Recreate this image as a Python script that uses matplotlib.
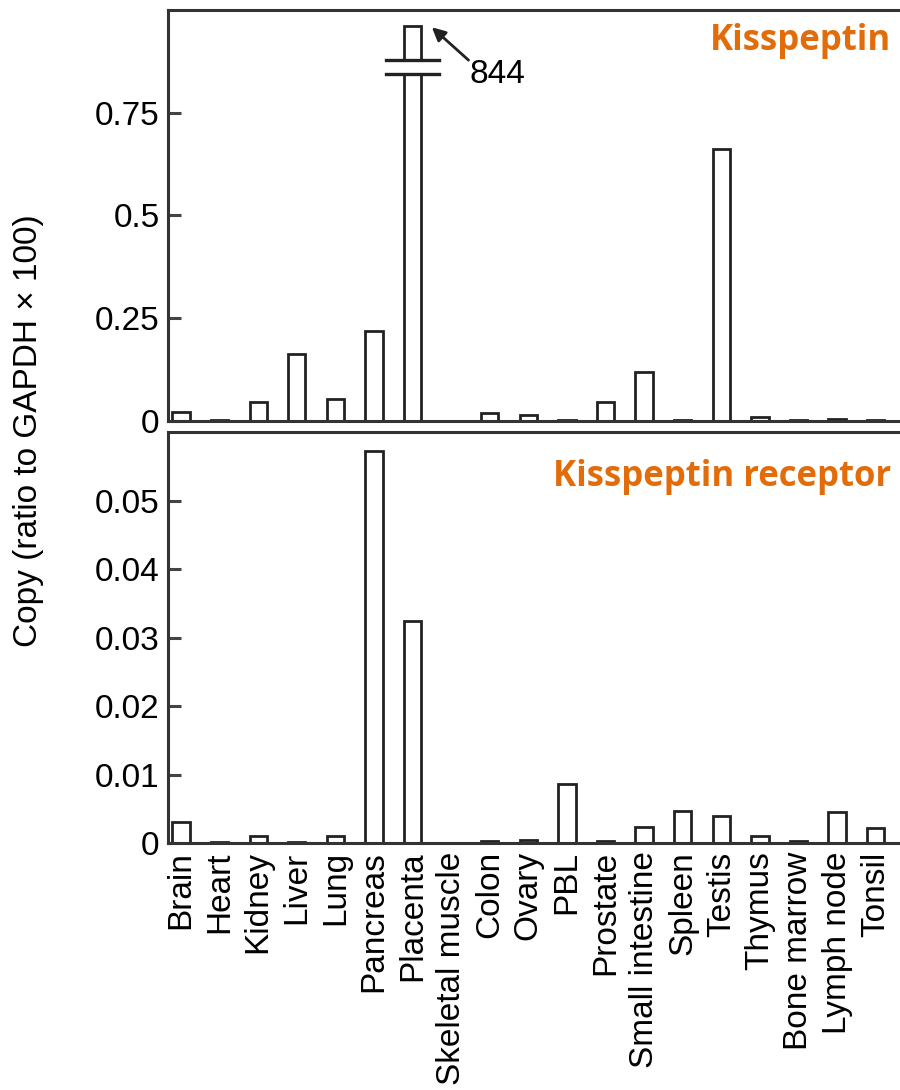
import matplotlib.pyplot as plt
import numpy as np

plt.rcParams['font.family'] = ['Liberation Sans', 'DejaVu Sans']

tissues = ["Brain", "Heart", "Kidney", "Liver", "Lung", "Pancreas", "Placenta",
           "Skeletal muscle", "Colon", "Ovary", "PBL", "Prostate", "Small intestine",
           "Spleen", "Testis", "Thymus", "Bone marrow", "Lymph node", "Tonsil"]

# copies relative to GAPDH x 100
kisspeptin = [0.022, 0.003, 0.047, 0.164, 0.054, 0.218, 844, 0.0, 0.02, 0.015,
              0.003, 0.047, 0.12, 0.002, 0.662, 0.01, 0.002, 0.004, 0.002]
receptor = [0.0030, 0.0002, 0.0010, 0.0002, 0.0010, 0.0573, 0.0324, 0.0, 0.0003,
            0.0004, 0.0086, 0.0003, 0.0023, 0.0047, 0.0039, 0.0010, 0.0003,
            0.0045, 0.0022]

top_ticks = [0, 0.25, 0.5, 0.75]
top_ticklabels = ["0", "0.25", "0.5", "0.75"]
bot_ticks = [0, 0.01, 0.02, 0.03, 0.04, 0.05]
bot_ticklabels = ["0", "0.01", "0.02", "0.03", "0.04", "0.05"]

orange = '#E36C0A'
edge = '#222222'
x = np.arange(len(tissues))
w = 0.45
cap = 0.96   # where the broken bar is cut off

fig = plt.figure(figsize=(9, 10.9), dpi=100)
ax1 = fig.add_axes([0.1867, 0.6138, 0.8133, 0.377])
ax2 = fig.add_axes([0.1867, 0.2266, 0.8133, 0.3771])

for ax in (ax1, ax2):
    ax.set_xlim(-0.337, 18.63)
    ax.spines['right'].set_visible(False)
    for s in ('left', 'top', 'bottom'):
        ax.spines[s].set_linewidth(2.2)
        ax.spines[s].set_color('#333333')
    ax.tick_params(axis='y', direction='in', length=9, width=2.2, color='#444444',
                   labelsize=24, pad=6)
    ax.tick_params(axis='x', length=0)

# top panel: kisspeptin
h1 = [min(v, cap) for v in kisspeptin]
ax1.bar(x, h1, width=w, color='white', edgecolor=edge, linewidth=2.0)
ax1.set_ylim(0, 1.0)
ax1.set_yticks(top_ticks)
ax1.set_yticklabels(top_ticklabels)
ax1.set_xticks([])

# axis break on the placenta bar
ip = tissues.index("Placenta")
ax1.fill_between([ip - w / 2 - 0.05, ip + w / 2 + 0.05], 0.845, 0.878,
                 color='white', zorder=3)
for yb in (0.845, 0.878):
    ax1.plot([ip - 0.69, ip + 0.69], [yb, yb], color=edge, lw=2.4, zorder=4)
ax1.annotate("", xy=(ip + 0.5, 0.958), xytext=(ip + 1.45, 0.878),
             arrowprops=dict(arrowstyle='-|>', color=edge, lw=2.0,
                             mutation_scale=20, shrinkA=0, shrinkB=0))
ax1.text(ip + 2.2, 0.843, f"{kisspeptin[ip]:g}", fontsize=24, ha='center', va='center')
ax1.text(0.988, 0.968, "Kisspeptin", transform=ax1.transAxes, ha='right', va='top',
         fontsize=25, fontweight='bold', color=orange, family='Open Sans')

# bottom panel: kisspeptin receptor
ax2.bar(x, receptor, width=w, color='white', edgecolor=edge, linewidth=2.0)
ax2.set_ylim(0, 0.0601)
ax2.set_yticks(bot_ticks)
ax2.set_yticklabels(bot_ticklabels)
ax2.set_xticks(x)
ax2.set_xticklabels(tissues, rotation=90, fontsize=24, va='top')
ax2.tick_params(axis='x', pad=6)
ax2.text(0.988, 0.935, "Kisspeptin receptor", transform=ax2.transAxes, ha='right',
         va='top', fontsize=25, fontweight='bold', color=orange, family='Open Sans')

fig.text(0.032, 0.605, "Copy (ratio to GAPDH \u00d7 100)", rotation=90,
         ha='center', va='center', fontsize=24)

fig.savefig('out.png', dpi=100)
